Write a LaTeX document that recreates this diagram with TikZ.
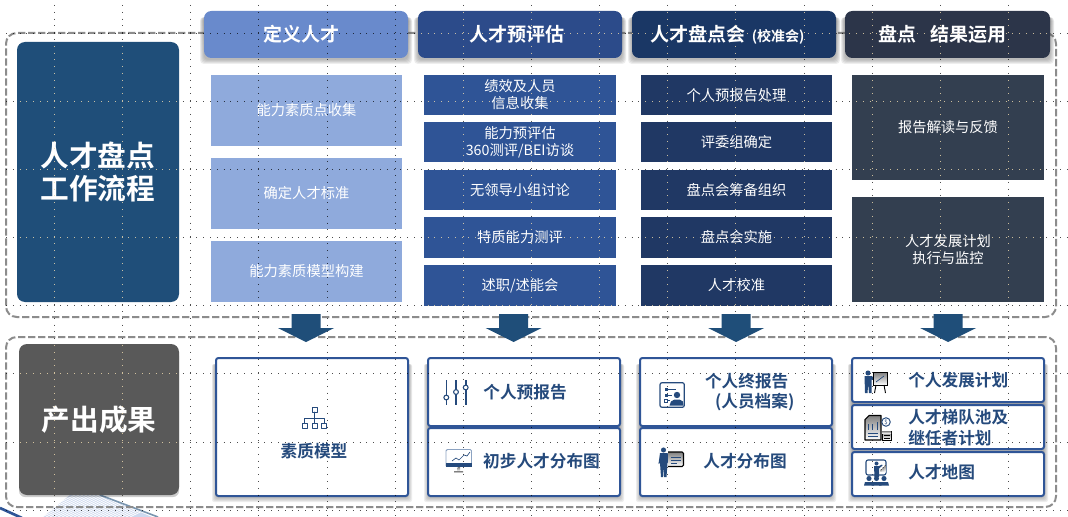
\documentclass[tikz,border=0pt]{standalone}
\usepackage{fontspec}
\setmainfont{Noto Sans CJK SC}[BoldFont=* Bold]
\definecolor{hA}{HTML}{698ACC}
\definecolor{hB}{HTML}{2C4B8A}
\definecolor{hC}{HTML}{1A3765}
\definecolor{hD}{HTML}{2C3549}
\definecolor{cA}{HTML}{8FAADC}
\definecolor{cB}{HTML}{2F5496}
\definecolor{cC}{HTML}{203864}
\definecolor{cD}{HTML}{333F50}
\definecolor{navy}{HTML}{1F4E79}
\definecolor{graybox}{HTML}{595959}
\definecolor{dashgray}{HTML}{8C8C8C}
\definecolor{outline}{HTML}{2F5597}
\definecolor{ink}{HTML}{254A7C}
\definecolor{shade}{HTML}{5B7CA8}
\definecolor{griddot}{HTML}{F1DDB0}
\newcommand\fs[2]{\fontsize{#1}{#2}\selectfont}
\newcommand\bx[7]{%
  \pgfmathsetlengthmacro\bxw{(#4-#2)*0.75pt}%
  \pgfmathsetlengthmacro\bxh{(#5-#3)*0.75pt}%
  \node[#6,minimum width=\bxw,minimum height=\bxh] (#1) at ({(#2+#4)/2},{(#3+#5)/2}) {#7};}
\newcommand\softshadow[5][4]{%
  \foreach \si in {1,...,5}{%
    \fill[shade,opacity=0.07,rounded corners=#1*0.75pt]
      ({#2-\si+1},{#3+6}) rectangle ({#4+\si-1},{#5+\si+1});}}
\newcommand\gridlines[1]{%
  \foreach \gx in {54,122,190,258,327,395,463,531,599,667,735,804,872,940,1008}{\draw[#1] (\gx,5) -- (\gx,517);}%
  \foreach \gy in {33,101,169,237,305,373,442,510}{\draw[#1] (6,\gy) -- (1068,\gy);}}
\newcommand\dnarrow[1]{%
  \fill[navy] ({#1-14.5},314) -- ({#1+14.5},314) -- ({#1+14.5},328) -- ({#1+28},328) -- (#1,342) -- ({#1-28},328) -- ({#1-14.5},328) -- cycle;}
\tikzset{
  basebox/.style={rectangle,inner sep=0pt,outer sep=0pt,align=center},
  headbox/.style={basebox,rounded corners=5.5pt,text=white,font=\fs{14.25}{18}\bfseries},
  cellbox/.style={basebox,text=white,font=\fs{10.7}{12.75}},
  sidebox/.style={basebox,rounded corners=6pt,text=white,font=\fs{21.5}{24.75}\bfseries},
  outbox/.style={basebox,fill=white,draw=outline,line width=1.5pt,rounded corners=1.8pt},
  outtext/.style={inner sep=0pt,text=ink,font=\fs{12.5}{15.5}\bfseries},
  zone/.style={draw=dashgray,line width=1.5pt,dash pattern=on 5.5pt off 2pt,rounded corners=8pt},
  griddark/.style={black,opacity=0.7,line width=0.6pt,dash pattern=on 0.6pt off 4.5pt},
  gridlight/.style={griddot,opacity=0.8,line width=0.6pt,dash pattern=on 0.6pt off 4.5pt},
  ic/.style={draw=ink,line width=0.75pt,line cap=round,line join=round},
}
\begin{document}
\begin{tikzpicture}[x=0.75pt,y=-0.75pt]
\useasboundingbox (0,0) rectangle (1068,517);
\fill[white] (0,0) rectangle (1068,517);
% corner decoration
\begin{scope}
\clip (0,495) rectangle (1068,517);
\fill[cA!45] (70,495) -- (100,495) -- (152,517) -- (43,517) -- cycle;
\foreach \hx in {30,34,...,130}{\draw[white,line width=0.6pt] (\hx,517) -- ({\hx+45},495);}
\draw[navy!60,line width=1.2pt] (100,495) -- (158,517);
\draw[outline,line width=2pt] (0,508) -- (22,518);
\end{scope}
% zones
\node[zone,inner sep=0pt,minimum width=787.5pt,minimum height=213pt] (zoneA) at (531,175) {};
\node[zone,inner sep=0pt,minimum width=787.5pt,minimum height=127.5pt] (zoneB) at (531,422) {};
% shadows
\softshadow{204}{11}{408}{58}
\softshadow{418}{11}{622}{58}
\softshadow{632}{11}{836}{58}
\softshadow{845}{11}{1050}{58}
\softshadow[2]{216}{358}{408}{496}
\softshadow[2]{428}{358}{620}{496}
\softshadow[2]{640}{358}{832}{496}
\softshadow[2]{852}{358}{1044}{496}
\fill[black,opacity=0.2,rounded corners=4.5pt] (19,350) rectangle (179,497);
% light boxes
\bx{hOne}{204}{11}{408}{58}{headbox,fill=hA}{定义人才\hspace{7.5pt}}
\bx{aOne}{211}{75}{402}{146}{cellbox,fill=cA}{能力素质点收集}
\bx{aTwo}{211}{158}{402}{229}{cellbox,fill=cA}{确定人才标准}
\bx{aThree}{211}{241}{402}{302}{cellbox,fill=cA}{能力素质模型构建}
% output boxes
\bx{oOne}{216}{358}{408}{496}{outbox}{}
\bx{oTwoA}{428}{358}{620}{426}{outbox}{}
\bx{oTwoB}{428}{428}{620}{496}{outbox}{}
\bx{oThreeA}{640}{358}{832}{426}{outbox}{}
\bx{oThreeB}{640}{428}{832}{496}{outbox}{}
\bx{oFourA}{852}{358}{1044}{402}{outbox}{}
\bx{oFourB}{852}{405}{1044}{449}{outbox}{}
\bx{oFourC}{852}{452}{1044}{496}{outbox}{}
% reference guides
\gridlines{griddark}
% dark boxes
\bx{side}{17}{42}{179}{302}{sidebox,fill=navy}{人才盘点\\工作流程}
\bx{sideB}{19}{344}{179}{495}{sidebox,fill=graybox}{产出成果}
\bx{hTwo}{418}{11}{622}{58}{headbox,fill=hB}{人才预评估\hspace{4pt}}
\bx{hThree}{632}{11}{836}{58}{headbox,fill=hC}{人才盘点会\hspace{5pt}{\fs{10.5}{12}(校准会)}\hspace{10pt}}
\bx{hFour}{845}{11}{1050}{58}{headbox,fill=hD}{盘点\hspace{10pt}结果运用\hspace{7.5pt}}
\bx{bOne}{424}{75}{616}{115}{cellbox,fill=cB}{绩效及人员\\信息收集}
\bx{bTwo}{424}{122}{616}{162}{cellbox,fill=cB}{能力预评估\\360测评/BEI访谈}
\bx{bThree}{424}{170}{616}{210}{cellbox,fill=cB}{无领导小组讨论}
\bx{bFour}{424}{217}{616}{258}{cellbox,fill=cB}{特质能力测评}
\bx{bFive}{424}{265}{616}{306}{cellbox,fill=cB}{述职/述能会}
\bx{dOne}{641}{75}{832}{115}{cellbox,fill=cC}{个人预报告处理}
\bx{dTwo}{641}{122}{832}{162}{cellbox,fill=cC}{评委组确定}
\bx{dThree}{641}{170}{832}{210}{cellbox,fill=cC}{盘点会筹备组织}
\bx{dFour}{641}{217}{832}{258}{cellbox,fill=cC}{盘点会实施}
\bx{dFive}{641}{265}{832}{306}{cellbox,fill=cC}{人才校准}
\bx{eOne}{852}{75}{1044}{180}{cellbox,fill=cD}{报告解读与反馈}
\bx{eTwo}{852}{197}{1044}{302}{cellbox,fill=cD}{人才发展计划\\执行与监控}
% light guide dots over the dark boxes
\begin{scope}
\clip (17,42) rectangle (179,302) (418,11) rectangle (622,58) (632,11) rectangle (836,58)
      (845,11) rectangle (1050,58) (424,75) rectangle (616,115) (424,122) rectangle (616,162)
      (424,170) rectangle (616,210) (424,217) rectangle (616,258) (424,265) rectangle (616,306)
      (641,75) rectangle (832,115) (641,122) rectangle (832,162) (641,170) rectangle (832,210)
      (641,217) rectangle (832,258) (641,265) rectangle (832,306) (852,75) rectangle (1044,180)
      (852,197) rectangle (1044,302) (19,344) rectangle (179,495);
\gridlines{gridlight}
\end{scope}
% block arrows
\dnarrow{306}
\dnarrow{513.5}
\dnarrow{736}
\dnarrow{948}
% output labels
\node[outtext] (tOne) at (314,451) {素质模型};
\node[outtext] (tTwoA) at (525,392) {个人预报告};
\node[outtext] (tTwoB) at (541.5,461) {初步人才分布图};
\node[outtext,align=center] (tThreeA) at (746.7,392) {个人终报告\\\hspace*{12pt}(人员档案)};
\node[outtext] (tThreeB) at (745,461) {人才分布图};
\node[outtext,anchor=west] (tFourA) at (908,380) {个人发展计划};
\node[outtext,anchor=west,align=left] (tFourB) at (908,427.5) {人才梯队池及\\继任者计划};
\node[outtext,anchor=west] (tFourC) at (908,472) {人才地图};
% icon: org chart
\draw[ic] (312,407) rectangle (317,412) (302,423.5) rectangle (307,428.5) (312,423.5) rectangle (317,428.5) (321.5,423.5) rectangle (326.5,428.5);
\draw[ic] (314.5,412) -- (314.5,423.5) (304.5,423.5) -- (304.5,418) -- (324,418) -- (324,423.5);
% icon: sliders
\draw[ink,line width=1.2pt] (446.3,380) -- (446.3,405) (456,380) -- (456,405) (465.7,380) -- (465.7,405);
\foreach \sx/\sy in {446.3/397.5,456/392,465.7/387.5}{\draw[ink,fill=white,line width=0.8pt] (\sx,\sy) circle[radius=1.8pt];}
% icon: monitor
\draw[shade!70,line width=0.7pt,rounded corners=1pt] (446,466) -- (446,449.5) -- (471.5,449.5) -- (471.5,466);
\fill[ink] (446,463) rectangle (471.7,467);
\draw[ink,line width=0.5pt] (452,461) -- (456,458) -- (459,460) -- (464,455) -- (467,456) -- (470,452);
\fill[shade] (457.5,467) rectangle (460,471);
\fill[shade] (454,471) rectangle (463,473);
% icon: profile card
\draw[ink,line width=0.9pt,rounded corners=1.5pt] (660,382.7) rectangle (684.3,407.3);
\fill[ink] (664.5,388) rectangle (667.5,391);
\fill[ink] (664.5,393.5) rectangle (667.5,396.5);
\draw[ink,line width=0.5pt] (664.5,399) rectangle (667.5,402);
\draw[ink,line width=0.6pt] (668,389.5) -- (675.5,389.5) (668,395) -- (672,395) (668,400.5) -- (670,400.5);
\fill[ink] (677,395) circle[radius=2.4pt];
\fill[ink] (669.5,405.5) -- (671,401.5) -- (674.5,399.5) -- (679.5,399.5) -- (683,401.5) -- (683.5,405.5) -- cycle;
% icon: presenter with card
\fill[ink] (663.5,450) circle[radius=1.9pt];
\fill[ink] (660,453) -- (667.5,453) -- (670,459) -- (667.5,463) -- (666.5,477) -- (664.2,477) -- (663.7,465) -- (663.2,477) -- (661,477) -- (660,463) -- (658.5,464) -- cycle;
\draw[shade,line width=0.8pt,rounded corners=1pt] (668,452) -- (683.5,452) -- (683.5,466.5) -- (668,466.5);
\draw[ink,line width=0.5pt] (671,457) -- (681,457) (671,460) -- (681,460) (671,463) -- (677,463);
% icon: flip-chart presenter
\fill[ink] (868,373) circle[radius=1.9pt];
\fill[ink] (864.5,376) -- (871.5,376) -- (876,379) -- (875,380.5) -- (871.5,379.5) -- (871.5,393) -- (869,393) -- (868.2,384) -- (867.5,393) -- (865,393) -- cycle;
\draw[shade,line width=0.7pt] (873,372.5) rectangle (887,385);
\draw[ink,line width=0.5pt] (876,382) -- (880,379) -- (884,376);
\draw[shade,line width=0.7pt] (876,385) -- (874.5,393) (884,385) -- (885.5,393);
% icon: plan sheet
\draw[shade,line width=0.8pt,line join=round] (869,415.5) -- (881,415.5) -- (881,440) -- (865,440) -- (865,419.5) -- cycle;
\draw[ink,line width=0.6pt] (868,424) -- (868,430) (872.5,424) -- (872.5,430) (877,422) -- (877,430) (868,433.5) -- (878,433.5) (868,436.5) -- (878,436.5);
\draw[ink,line width=0.7pt] (886,422) circle[radius=3.2pt];
\node[inner sep=0pt,text=ink,font=\fs{4.5}{5}] (dollar) at (886,422) {\$};
\draw[shade,fill=white,line width=0.7pt] (882,431) rectangle (891,440);
\fill[shade] (882,431) rectangle (891,433.5);
\draw[shade,line width=0.5pt] (884,435.5) -- (889.5,435.5) (884,438) -- (889.5,438);
% icon: audience with board
\draw[ink,line width=0.8pt,rounded corners=1.5pt] (866,460) rectangle (886,475);
\fill[ink] (876.5,463.5) circle[radius=1.5pt];
\fill[ink] (874,466) -- (879,466) -- (882,464.5) -- (882.5,465.5) -- (879,468.5) -- (879,477) -- (874.5,477) -- cycle;
\foreach \hbar in {881,883,885}{\fill[shade] (\hbar-0.5,472) rectangle (\hbar+0.7,{472-(\hbar-878)});}
\foreach \ax in {869,876.5,884}{
  \fill[ink] (\ax,478.5) circle[radius=1.9pt];
  \fill[ink] ({\ax-5},485.5) -- ({\ax-4},482) -- ({\ax+4},482) -- ({\ax+5},485.5) -- cycle;}
\end{tikzpicture}
\end{document}
